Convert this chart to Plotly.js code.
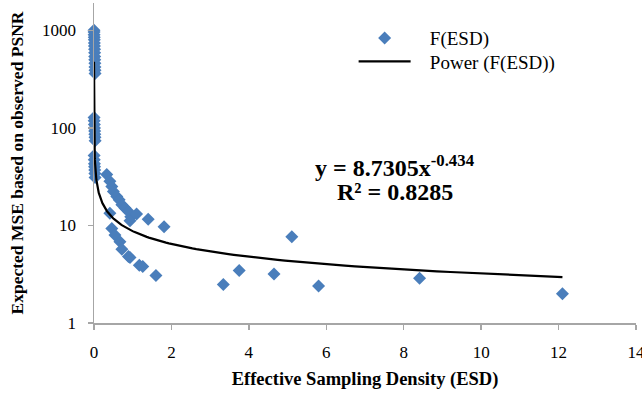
<!DOCTYPE html>
<html>
<head>
<meta charset="utf-8">
<script src="https://cdn.plot.ly/plotly-3.0.1.min.js"></script>
<style>html,body{margin:0;padding:0;background:#fff;} #chart{width:642px;height:395px;}</style>
</head>
<body>
<div id="chart"></div>
<script>
// Observed points F(ESD): effective sampling density vs expected MSE
const esd = [
  0.0001, 0.002, 0.004, 0.006, 0.008, 0.010, 0.012, 0.014, 0.016, 0.018, 0.020, 0.022, 0.024, 0.026, 0.028,
  0.001, 0.005, 0.009, 0.013, 0.017, 0.021, 0.025, 0.029,
  0.003, 0.007, 0.011, 0.015, 0.019, 0.023, 0.027,
  0.33, 0.41, 0.46, 0.50, 0.59, 0.65, 0.72, 0.80, 0.89, 0.95, 1.10, 0.93, 1.40, 1.81,
  0.41, 0.46, 0.54, 0.67, 0.72, 0.89, 0.93, 1.17, 1.26, 1.60,
  3.34, 3.75, 4.65, 5.11, 5.80, 8.41, 12.10
];
const mse = [
  1000, 960, 900, 850, 800, 740, 690, 640, 590, 540, 500, 460, 420, 390, 360,
  128, 118, 108, 100, 93, 86, 80, 74,
  52, 47, 43, 40, 37, 34, 31,
  33.2, 28.3, 25.1, 22.3, 19.8, 18.3, 16.3, 15.1, 13.9, 12.3, 13.1, 11.2, 11.6, 9.7,
  13.3, 9.3, 8.0, 6.8, 5.7, 4.8, 4.7, 3.9, 3.8, 3.07,
  2.48, 3.46, 3.17, 7.64, 2.40, 2.88, 2.0
];
// Power trendline coefficients as printed on the chart
const fitA = 8.7305;
const fitB = -0.434;
const fitR2 = 0.8285;
const xTicks = [0, 2, 4, 6, 8, 10, 12, 14];
const yTicks = [1, 10, 100, 1000];

const xMin = Math.min(...esd), xMax = Math.max(...esd);
const fitX = [], fitY = [];
for (let i = 0; i <= 300; i++) {
  const lx = Math.log10(xMin) + (Math.log10(xMax) - Math.log10(xMin)) * i / 300;
  const xv = Math.pow(10, lx);
  fitX.push(xv);
  fitY.push(fitA * Math.pow(xv, fitB));
}

const serif = '"Liberation Serif", "Times New Roman", serif';
const pad = '\u00a0\u00a0\u00a0';
const legFont = {family: serif, size: 19, color: '#000'};
const traces = [
  {x: esd, y: mse, type: 'scatter', mode: 'markers', name: pad + 'F(ESD)', legend: 'legend',
   marker: {symbol: 'diamond', size: 10, color: '#4a7ebb'}, cliponaxis: false},
  {x: fitX, y: fitY, type: 'scatter', mode: 'lines', name: pad + 'Power (F(ESD))', legend: 'legend2',
   line: {color: '#000', width: 2.2}, cliponaxis: false}
];
const layout = {
  width: 642, height: 395,
  margin: {l: 94, r: 6, t: 3, b: 72},
  paper_bgcolor: '#fff', plot_bgcolor: '#fff',
  font: {family: serif, size: 17, color: '#000'},
  showlegend: true,
  legend: {x: 0.479, y: 0.89, xanchor: 'left', yanchor: 'middle', bgcolor: 'rgba(0,0,0,0)',
           font: legFont, itemwidth: 52},
  legend2: {x: 0.479, y: 0.817, xanchor: 'left', yanchor: 'middle', bgcolor: 'rgba(0,0,0,0)',
           font: legFont, itemwidth: 52},
  xaxis: {range: [0, 14], tickvals: xTicks, ticktext: xTicks.map(String),
          showline: true, linecolor: '#a6a6a6', linewidth: 1.5, ticks: 'outside', ticklen: 5,
          tickcolor: '#a6a6a6', tickwidth: 1.5, showgrid: false, zeroline: false,
          ticklabelstandoff: 8, ticklabeloverflow: 'allow',
          tickfont: {family: serif, size: 17, color: '#000'},
          title: {text: '<b>Effective Sampling Density (ESD)</b>', font: {family: serif, size: 18.5, color: '#000'}, standoff: 11}},
  yaxis: {type: 'log', range: [0, 3.28], tickvals: yTicks, ticktext: yTicks.map(String),
          showline: true, linecolor: '#a6a6a6', linewidth: 1.5, ticks: 'outside', ticklen: 5,
          tickcolor: '#a6a6a6', tickwidth: 1.5, showgrid: false, zeroline: false,
          ticklabelstandoff: 8,
          tickfont: {family: serif, size: 17, color: '#000'},
          title: {text: '<b>Expected MSE based on observed PSNR</b>', font: {family: serif, size: 17.5, color: '#000'}, standoff: 14}},
  annotations: [
    {xref: 'paper', yref: 'paper', x: 0.556, y: 0.49, xanchor: 'center', yanchor: 'middle', showarrow: false,
     text: '<b>y = ' + fitA + 'x<sup>' + fitB + '</sup></b>', font: {family: serif, size: 24, color: '#000'}},
    {xref: 'paper', yref: 'paper', x: 0.556, y: 0.41, xanchor: 'center', yanchor: 'middle', showarrow: false,
     text: '<b>R² = ' + fitR2 + '</b>', font: {family: serif, size: 24, color: '#000'}}
  ]
};
Plotly.newPlot('chart', traces, layout, {displayModeBar: false, staticPlot: true});
</script>
</body>
</html>
